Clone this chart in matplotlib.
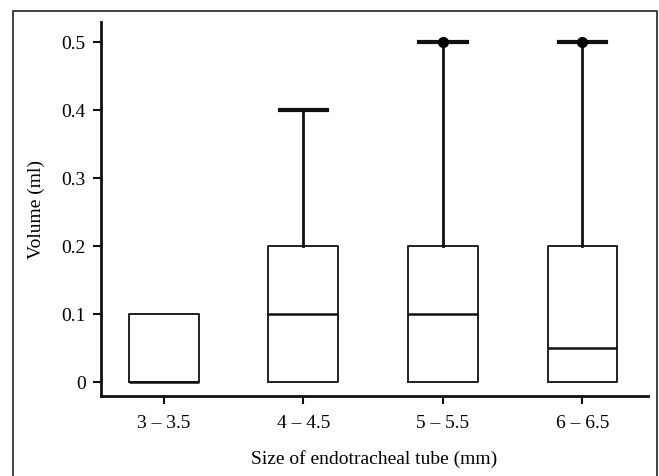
"""Box plot of volume by endotracheal tube size. Saves out.png."""

import matplotlib
matplotlib.use("Agg")
import matplotlib.pyplot as plt
from matplotlib.lines import Line2D

sizes = ["3 \u2013 3.5", "4 \u2013 4.5", "5 \u2013 5.5", "6 \u2013 6.5"]
q1 = [0.0, 0.0, 0.0, 0.0]
med = [0.0, 0.1, 0.1, 0.05]
q3 = [0.1, 0.2, 0.2, 0.2]
wlo = [0.0, 0.0, 0.0, 0.0]
whi = [0.1, 0.4, 0.5, 0.5]
outliers = [[], [], [0.5], [0.5]]

plt.rcParams["font.family"] = ["Liberation Serif", "DejaVu Serif"]


def main():
    fig = plt.figure(figsize=(6.59, 4.77), dpi=100)
    ax = fig.add_axes([0.1533, 0.1677, 0.83, 0.7841])

    stats = [dict(label=s, q1=a, med=m, q3=b, whislo=lo, whishi=hi, fliers=f)
             for s, a, m, b, lo, hi, f in zip(sizes, q1, med, q3, wlo, whi, outliers)]
    art = ax.bxp(stats, positions=range(len(sizes)), widths=0.5, capwidths=0.34,
                 boxprops=dict(color="#222222", linewidth=1.4),
                 medianprops=dict(color="#111111", linewidth=1.8),
                 whiskerprops=dict(color="#111111", linewidth=2.0),
                 capprops=dict(color="#111111", linewidth=3.0),
                 flierprops=dict(marker="o", markerfacecolor="black",
                                 markeredgecolor="black", markersize=7))
    # only show caps where a whisker actually sticks out of the box
    for i in range(len(sizes)):
        lo_cap, hi_cap = art["caps"][2 * i], art["caps"][2 * i + 1]
        lo_cap.set_visible(wlo[i] < q1[i])
        hi_cap.set_visible(whi[i] > q3[i])

    ax.set_xlim(-0.45, 3.47)
    ax.set_ylim(-0.0206, 0.529)
    ax.set_yticks([0, 0.1, 0.2, 0.3, 0.4, 0.5])
    ax.set_yticklabels(["0", "0.1", "0.2", "0.3", "0.4", "0.5"])
    ax.set_xticks(range(len(sizes)))
    ax.set_xticklabels(sizes)
    ax.tick_params(labelsize=14, length=6, width=1.5, color="#111111", pad=5)
    ax.tick_params(axis="x", pad=7)
    for side in ("top", "right"):
        ax.spines[side].set_visible(False)
    for side in ("left", "bottom"):
        ax.spines[side].set_linewidth(2.0)
        ax.spines[side].set_color("#111111")

    ax.set_xlabel("Size of endotracheal tube (mm)", fontsize=14, labelpad=13)
    ax.set_ylabel("Volume (ml)", fontsize=14, labelpad=12)

    # outer frame (open at bottom)
    x0, x1, yt = 0.0197, 0.9977, 0.9748
    fig.add_artist(Line2D([x0, x0, x1, x1], [0, yt, yt, 0], transform=fig.transFigure,
                          color="#333333", linewidth=1.3))

    fig.savefig("out.png", dpi=100)


if __name__ == "__main__":
    main()
